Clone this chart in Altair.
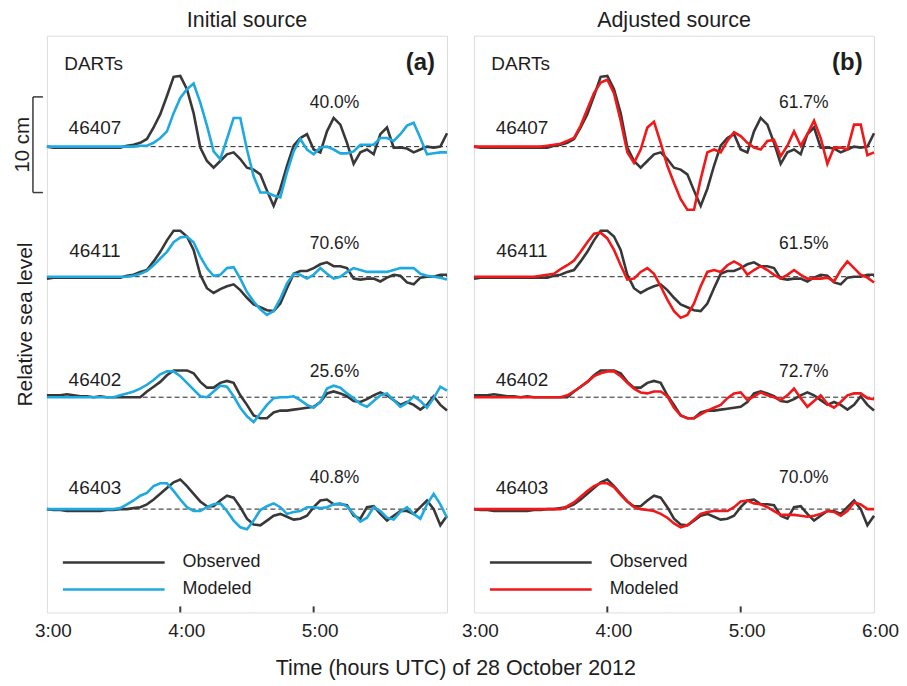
import altair as alt
import pandas as pd

FONT = "Liberation Sans"

# ---------------- data ----------------
# sample grid: minutes after 3:00 UTC, every 3 minutes up to 6:00
TIME_MIN = [3 * k for k in range(61)]
STATIONS = ["46407", "46411", "46402", "46403"]

# observed sea level (cm), same record in both panels
obs_46407 = [0, -0.1, -0.1, -0.1, -0.1, -0.1, -0.1, -0.1, -0.1, -0.1, -0.1, -0.1, 0.1, 0.2, 0.4, 0.8,
             2.0, 3.4, 5.3, 7.3, 7.4, 6.0, 3.5, -0.1, -1.5, -2.2, -1.5, -0.8, -0.6, -1.3, -2.2, -2.4,
             -2.9, -4.6, -6.2, -4.4, -2.0, 0.1, 0.9, 1.3, -0.3, -0.6, 1.6, 3.0, 2.3, 0.4, -1.8, -0.6,
             -0.3, -0.8, 1.3, 2.0, -0.1, -0.1, -0.2, -0.6, -0.3, 0, -0.1, 0, 1.4]
obs_46411 = [-0.2, -0.1, -0.1, -0.1, -0.1, -0.1, -0.1, -0.1, -0.1, -0.1, -0.1, -0.1, 0.1, 0.2, 0.5, 0.7,
             1.6, 2.6, 3.8, 4.8, 4.8, 4.2, 2.8, 0.2, -1.2, -1.7, -1.3, -1.0, -0.8, -1.4, -2.2, -2.9,
             -3.2, -3.5, -3.6, -2.8, -1.2, 0.3, 0.6, 0.6, 0.9, 1.3, 1.5, 1.1, 1.1, 0.9, -0.2, -0.3,
             -0.2, -0.2, -0.5, -0.1, 0.2, 0.1, -0.6, -0.8, -0.1, 0, 0, 0.2, 0.2]
obs_46402 = [0.2, 0.2, 0.2, 0.3, 0.2, 0.1, 0.1, 0, 0.1, 0, 0, 0, 0, 0, 0, 0.6,
             1.1, 1.6, 2.3, 2.8, 2.8, 2.8, 2.5, 1.6, 1.0, 1.0, 1.5, 1.7, 1.5, 0.2, -0.8, -1.9,
             -2.2, -2.2, -1.6, -1.4, -1.4, -1.3, -1.2, -1.1, -1.0, -0.5, 0.4, 0.6, 0.4, 0.1, -0.4, -0.5,
             -0.2, 0.2, 0.5, 0.2, -0.3, -0.8, -0.5, -0.8, -1.3, -0.8, 0.1, -0.8, -1.4]
obs_46403 = [0, -0.1, -0.1, -0.2, -0.2, -0.2, -0.2, -0.2, -0.2, -0.1, -0.1, 0, 0, 0.1, 0.2, 0.5,
             1.0, 1.6, 2.2, 2.8, 3.1, 2.4, 1.6, 0.8, 0.3, 0.3, 0.9, 1.4, 1.2, 0.2, -1.0, -1.6,
             -1.7, -1.2, -0.7, -0.5, -0.8, -1.1, -1.0, -0.7, 0.2, 0.9, 1.0, 0.5, 0.5, 0.4, -0.7, -1.0,
             0.2, 0.3, -0.5, -1.2, -0.7, -0.2, -0.2, -0.5, 0.2, 0.9, 0, -1.7, -0.7]

# modeled, initial source (panel a)
init_46407 = [0, 0, 0, 0, 0, 0, 0, 0, 0, 0, 0, 0, 0, 0, 0.1, 0.1,
              0.4, 0.9, 1.6, 3.5, 5.1, 6.0, 6.6, 4.6, 2.2, -0.5, -1.3, 0.8, 3.0, 3.0, -0.3, -3.1,
              -4.8, -4.8, -5.1, -5.3, -2.7, -0.5, 0.8, -0.3, -0.8, -0.1, 0, -0.3, -0.7, -0.7, -0.5, 0.2,
              0.2, 0.2, 0.9, 0.9, 0.6, 1.3, 2.2, 2.5, 0.9, -0.8, -0.7, -0.6, -0.6]
init_46411 = [0, 0, 0, 0, 0, 0, 0, 0, 0, 0, 0, 0, 0, 0.1, 0.3, 0.6,
              1.2, 1.9, 2.6, 3.6, 4.1, 4.2, 3.6, 2.1, 0.9, 0.1, 0.2, 0.9, 1.0, -0.2, -1.6, -2.6,
              -3.4, -4.0, -3.6, -2.3, -0.7, 0.3, 0.2, -0.2, 0.2, 0.9, 0.3, -0.2, 0, 0.5, 0.9, 0.7,
              0.5, 0.5, 0.5, 0.5, 0.7, 0.9, 0.9, 0.9, 0.3, 0.1, 0, -0.1, -0.3]
init_46402 = [0, 0, 0, 0, 0, 0, 0, 0, 0, 0, 0, 0.2, 0.4, 0.6, 0.9, 1.3,
              1.8, 2.4, 2.7, 2.7, 2.2, 1.5, 0.8, 0.1, 0, 0.6, 1.2, 1.1, 0.1, -1.1, -2.0, -2.6,
              -1.7, -0.8, -0.1, 0, 0, 0.1, -0.3, -0.8, -1.1, -0.5, 0.9, 1.2, 1.0, 0.4, -0.1, -0.7,
              -1.0, -0.4, 0.2, 0.4, -0.3, -1.0, -0.6, 0.1, -0.4, -1.1, -0.1, 1.1, 0.7]
init_46403 = [0, 0, 0, 0, 0, 0, 0, 0, 0, 0, 0, 0.1, 0.5, 0.9, 1.4, 1.7,
              2.4, 2.7, 2.7, 1.9, 1.0, 0.2, -0.2, -0.2, 0.2, 0.5, 0.6, -0.2, -1.2, -1.9, -2.1, -1.2,
              -0.1, 0.3, 0.6, 0.2, -0.5, -0.3, -0.2, 0.2, 0.2, 0.1, 0.2, 0.5, 0.6, 0.3, -0.5, -1.3,
              -0.9, 0.2, -0.2, -0.9, -1.1, -0.3, 0.2, -0.5, -1.0, 0.5, 1.6, 0.5, -0.9]

# modeled, adjusted source (panel b)
adj_46407 = [0, 0, 0, 0, 0, 0, 0, 0, 0, 0, 0, 0.1, 0.2, 0.3, 0.6, 0.9,
             2.2, 3.9, 5.6, 6.7, 7.0, 5.6, 2.7, -0.6, -1.7, -0.3, 2.0, 2.6, 0.4, -2.0, -3.8, -5.5,
             -6.6, -6.6, -3.4, -0.6, -0.3, -0.6, 0.6, 1.5, 1.1, 0.4, -0.1, -0.3, 0.6, 0.7, -1.0, 0.1,
             1.6, 0.1, 1.3, 2.7, 0.9, -1.8, -0.1, -0.1, -0.3, 2.3, 2.3, -0.9, -0.6]
adj_46411 = [0, 0, 0, 0, 0, 0, 0, 0, 0, 0, 0.1, 0.2, 0.3, 0.8, 1.2, 1.7,
             2.6, 3.6, 4.5, 4.6, 4.0, 2.8, 1.2, -0.3, -0.2, 0.5, 0.9, 0.3, -1.0, -2.4, -3.6, -4.3,
             -4.0, -2.8, -1.0, 0.5, 0.7, 0.5, 1.2, 1.6, 1.2, 0.2, 0.7, 1.1, 0.7, 0.2, -0.2, 0.2,
             0.7, 0.2, -0.2, -0.2, -0.2, -0.1, -0.5, 0.7, 1.6, 0.9, 0.2, -0.1, -0.6]
adj_46402 = [0, 0, 0, 0, 0, 0, 0, 0, 0, 0, 0, 0, 0, 0, 0.2, 0.6,
             1.1, 1.6, 2.2, 2.5, 2.7, 2.7, 2.2, 1.5, 0.9, 0.5, 0.4, 0.6, 0.6, 0.1, -1.1, -1.9,
             -2.2, -2.2, -1.8, -1.4, -1.1, -0.8, -0.1, 0.4, 0.5, -0.3, 0.1, 0.5, 0.2, 0, -0.3, 0.2,
             0.9, -0.1, -1.0, -0.4, 0.2, -0.7, -1.1, -0.5, 0.2, 0.4, 0.4, -0.1, -0.2]
adj_46403 = [0, 0, 0, 0, 0, 0, 0, 0, 0, 0, 0, 0, 0, 0, 0.3, 0.7,
             1.3, 1.9, 2.4, 2.7, 2.7, 2.3, 1.5, 0.8, 0.2, 0, -0.1, -0.2, -0.5, -0.9, -1.5, -1.9,
             -1.7, -1.1, -0.5, -0.3, -0.2, -0.2, -0.2, 0.2, 0.8, 0.9, 0.6, 0.5, 0.2, -0.2, -0.6, -0.6,
             -0.6, -0.7, -0.8, -0.7, -0.5, -0.2, -0.3, -0.7, -0.2, 0.7, 0.5, 0, 0]

PCT_INITIAL = ["40.0%", "70.6%", "25.6%", "40.8%"]
PCT_ADJUSTED = ["61.7%", "61.5%", "72.7%", "70.0%"]

OBSERVED = {"46407": obs_46407, "46411": obs_46411, "46402": obs_46402, "46403": obs_46403}
INITIAL = {"46407": init_46407, "46411": init_46411, "46402": init_46402, "46403": init_46403}
ADJUSTED = {"46407": adj_46407, "46411": adj_46411, "46402": adj_46402, "46403": adj_46403}

# ---------------- layout / style constants ----------------
W, H = 401, 578
Y_MAX = 60.3
OFFSET = {"46407": 48.7, "46411": 35.1, "46402": 22.5, "46403": 10.8}      # baseline of each trace (cm)
LABEL_Y = {"46407": 50.6, "46411": 37.8, "46402": 24.3, "46403": 13.0}
PCT_Y = {"46407": 53.3, "46411": 38.5, "46402": 25.1, "46403": 14.0}
TEXT = "#1e1e1e"
FRAME = "#3a3a3a"
OBS_COLOR = "#383838"
BLUE = "#1ea9e1"
RED = "#f01818"
ONE = pd.DataFrame({"a": [0]})


def xenc(field, values):
    return alt.X(field, type="quantitative",
                 scale=alt.Scale(domain=[0, 180], nice=False, zero=False),
                 axis=alt.Axis(values=values, labelExpr="(3 + datum.value / 60) + ':00'",
                               title=None, domain=False, ticks=False, grid=False,
                               labelFlush=False, labelPadding=9, labelOffset=6,
                               labelFontSize=19, labelColor=TEXT, labelFont=FONT))


def yenc(field, show_title):
    if show_title:
        ax = alt.Axis(title="Relative sea level", domain=False, ticks=False, labels=False,
                      grid=False, titleFontSize=21, titleFontWeight="normal", titlePadding=11,
                      titleFont=FONT, titleColor=TEXT)
    else:
        ax = None
    return alt.Y(field, type="quantitative",
                 scale=alt.Scale(domain=[0, Y_MAX], nice=False, zero=False), axis=ax)


def panel(model, color, pcts, letter, title, tick_values, pct_t, left):
    X = lambda f: xenc(f, tick_values)
    Y = lambda f: yenc(f, left)

    base_df = pd.DataFrame({"station": STATIONS, "y": [OFFSET[s] for s in STATIONS]})
    obs_rows, mod_rows = [], []
    for s in STATIONS:
        for t, v in zip(TIME_MIN, OBSERVED[s]):
            obs_rows.append({"station": s, "t": t, "y": v + OFFSET[s]})
        for t, v in zip(TIME_MIN, model[s]):
            mod_rows.append({"station": s, "t": t, "y": v + OFFSET[s]})
    obs_df = pd.DataFrame(obs_rows)
    mod_df = pd.DataFrame(mod_rows)

    lab_df = pd.DataFrame({"label": STATIONS, "t": [21.6] * 4, "y": [LABEL_Y[s] for s in STATIONS]})
    pct_df = pd.DataFrame({"label": pcts, "t": [pct_t] * 4, "y": [PCT_Y[s] for s in STATIONS]})

    layers = [
        alt.Chart(base_df).mark_rule(strokeDash=[5, 3], strokeWidth=1, color="#222")
        .encode(y=Y("y"), x=alt.value(0), x2=alt.value(W)),
        alt.Chart(obs_df).mark_line(color=OBS_COLOR, strokeWidth=2.6)
        .encode(x=X("t"), y=Y("y"), detail="station:N"),
        alt.Chart(mod_df).mark_line(color=color, strokeWidth=2.6)
        .encode(x=X("t"), y=Y("y"), detail="station:N"),
        alt.Chart(lab_df).mark_text(fontSize=19, font=FONT, color=TEXT, align="center", baseline="middle")
        .encode(x=X("t"), y=Y("y"), text="label:N"),
        alt.Chart(pct_df).mark_text(fontSize=17.5, font=FONT, color=TEXT, align="center", baseline="middle")
        .encode(x=X("t"), y=Y("y"), text="label:N"),
        alt.Chart(pd.DataFrame({"label": ["DARTs"], "t": [21.0], "y": [57.3]}))
        .mark_text(fontSize=19, font=FONT, color=TEXT, align="center", baseline="middle")
        .encode(x=X("t"), y=Y("y"), text="label:N"),
        alt.Chart(pd.DataFrame({"label": [letter], "t": [168.0], "y": [57.4]}))
        .mark_text(fontSize=24, font=FONT, fontWeight="bold", color=TEXT, align="center", baseline="middle")
        .encode(x=X("t"), y=Y("y"), text="label:N"),
        # inward tick marks
        alt.Chart(pd.DataFrame({"t": [60, 120]})).mark_rule(strokeWidth=2, color=FRAME)
        .encode(x=X("t"), y=alt.value(H), y2=alt.value(H - 6)),
        # legend
        alt.Chart(ONE).mark_rule(color=OBS_COLOR, strokeWidth=2.6)
        .encode(x=alt.value(16), x2=alt.value(118), y=alt.value(528)),
        alt.Chart(ONE).mark_rule(color=color, strokeWidth=2.6)
        .encode(x=alt.value(16), x2=alt.value(118), y=alt.value(555)),
        alt.Chart(ONE).mark_text(text="Observed", fontSize=18, font=FONT, color=TEXT, align="left", baseline="middle")
        .encode(x=alt.value(136), y=alt.value(528)),
        alt.Chart(ONE).mark_text(text="Modeled", fontSize=18, font=FONT, color=TEXT, align="left", baseline="middle")
        .encode(x=alt.value(136), y=alt.value(555)),
    ]
    if left:
        bar = pd.DataFrame({"y": [OFFSET["46407"] + 0.2 - 5], "y2": [OFFSET["46407"] + 0.2 + 5]})
        caps = pd.DataFrame({"y": [OFFSET["46407"] + 0.2 - 5, OFFSET["46407"] + 0.2 + 5]})
        layers += [
            alt.Chart(bar).mark_rule(color=FRAME, strokeWidth=1.5)
            .encode(x=alt.value(-14), y=Y("y"), y2="y2:Q"),
            alt.Chart(caps).mark_rule(color=FRAME, strokeWidth=1.5)
            .encode(x=alt.value(-14), x2=alt.value(-4), y=Y("y")),
            alt.Chart(pd.DataFrame({"y": [OFFSET["46407"] + 0.2]}))
            .mark_text(text="10 cm", fontSize=20.5, font=FONT, color=TEXT, angle=270,
                       align="center", baseline="middle")
            .encode(x=alt.value(-24), y=Y("y")),
        ]
    return alt.layer(*layers).properties(
        width=W, height=H,
        title=alt.TitleParams(title, fontSize=21.5, fontWeight="normal", font=FONT, color=TEXT,
                              offset=4.5, anchor="middle", frame="group"))


left = panel(INITIAL, BLUE, PCT_INITIAL, "(a)", "Initial source", [0, 60, 120], 129.4, True)
right = panel(ADJUSTED, RED, PCT_ADJUSTED, "(b)", "Adjusted source", [0, 60, 120, 180], 148.4, False)

chart = alt.hconcat(left, right, spacing=27, bounds="flush").properties(
    title=alt.TitleParams("Time (hours UTC) of 28 October 2012", orient="bottom", anchor="middle",
                          fontSize=21.5, fontWeight="normal", font=FONT, color=TEXT, offset=17),
    padding={"left": 4, "top": 0, "right": 0, "bottom": 0},
).configure_view(stroke=FRAME, strokeWidth=2.5).configure(font=FONT)

chart.save("out.html", embed_options={"renderer": "svg", "actions": False})
